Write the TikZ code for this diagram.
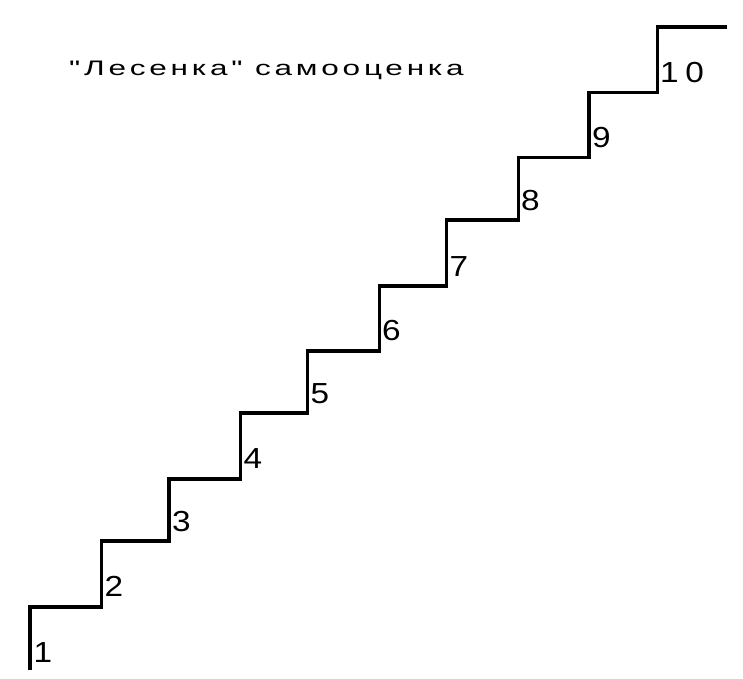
\documentclass[tikz,border=0pt]{standalone}
\usepackage{fontspec}
\setmainfont{Liberation Sans}
\newfontfamily\titlefont{Liberation Sans}[LetterSpace=12]
\newfontfamily\numfont{Liberation Sans}
\newfontfamily\numwidefont{Liberation Sans}[LetterSpace=20]
\newcommand{\stepnum}[1]{\scalebox{1.15}[1]{#1}}
\begin{document}
\begin{tikzpicture}[x=1pt,y=1pt,
  stair/.style={line width=3.5pt,line join=miter,line cap=butt},
  numlbl/.style={anchor=south west,inner sep=0pt,font=\numfont\fontsize{29}{31}\selectfont},
  titlelbl/.style={anchor=base west,inner sep=0pt}]
\useasboundingbox (0,0) rectangle (743,678);
% corners (image y flipped: y = 678 - y_img)
\coordinate (p0) at (30,8);
\coordinate (p1) at (30,71);
\coordinate (p2) at (101.7,71);
\coordinate (p3) at (101.7,137);
\coordinate (p4) at (169,137);
\coordinate (p5) at (169,199);
\coordinate (p6) at (240.7,199);
\coordinate (p7) at (240.7,265);
\coordinate (p8) at (307.7,265);
\coordinate (p9) at (307.7,327);
\coordinate (p10) at (379.3,327);
\coordinate (p11) at (379.3,392);
\coordinate (p12) at (446.7,392);
\coordinate (p13) at (446.7,458);
\coordinate (p14) at (518.3,458);
\coordinate (p15) at (518.3,520.3);
\coordinate (p16) at (589,520.3);
\coordinate (p17) at (589,585.5);
\coordinate (p18) at (657.5,585.5);
\coordinate (p19) at (657.5,651);
\coordinate (p20) at (727,651);
\draw[stair] (p0) -- (p1) -- (p2) -- (p3) -- (p4) -- (p5) -- (p6) -- (p7) -- (p8) -- (p9) -- (p10)
  -- (p11) -- (p12) -- (p13) -- (p14) -- (p15) -- (p16) -- (p17) -- (p18) -- (p19) -- (p20);
% step numbers
\node[numlbl] (n1) at (33.5,15) {\stepnum{1}};
\node[numlbl] (n2) at (104.5,81) {\stepnum{2}};
\node[numlbl] (n3) at (172,146) {\stepnum{3}};
\node[numlbl] (n4) at (243.5,209) {\stepnum{4}};
\node[numlbl] (n5) at (310.5,274) {\stepnum{5}};
\node[numlbl] (n6) at (382,337) {\stepnum{6}};
\node[numlbl] (n7) at (449.5,401) {\stepnum{7}};
\node[numlbl] (n8) at (521,467) {\stepnum{8}};
\node[numlbl] (n9) at (592,530) {\stepnum{9}};
\node[numlbl,font=\numwidefont\fontsize{29}{31}\selectfont] (n10) at (660,595) {\stepnum{10}};
% title
\node[titlelbl] (title) at (69,602) {\scalebox{1.5}[1]{\titlefont\fontsize{21}{24}\selectfont "Лесенка" самооценка}};
\end{tikzpicture}
\end{document}
